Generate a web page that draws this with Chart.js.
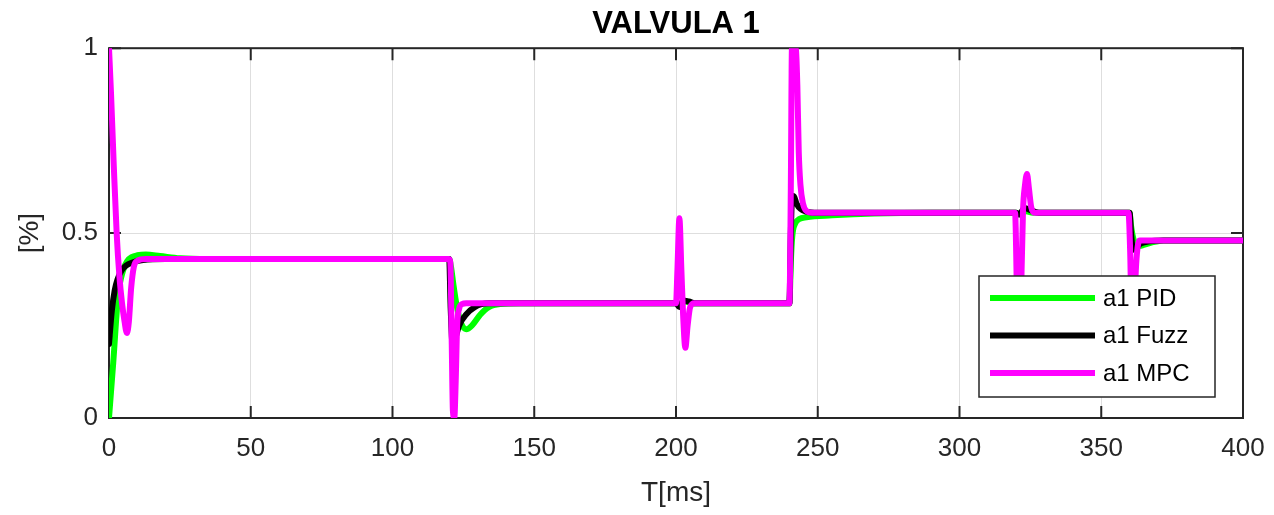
<!DOCTYPE html>
<html>
<head>
<meta charset="utf-8">
<script src="https://cdn.jsdelivr.net/npm/chart.js@4/dist/chart.umd.min.js"></script>
<style>
  html, body { margin: 0; padding: 0; background: #fff; }
</style>
</head>
<body>
<canvas id="myChart" width="1274" height="515"></canvas>
<script>
const FONT = "'Liberation Sans', Arial, sans-serif";
const INK = '#262626';

// x ticks (ms) and y ticks (fraction)
const xTicks = [0, 50, 100, 150, 200, 250, 300, 350, 400];
const yTicks = [0, 0.5, 1];
const yTickLabels = ['0', '0.5', '1'];

// a1 PID
const pidT = [0, 1.5, 3.2, 5, 6.5, 8, 10, 13, 18, 25, 35, 120,
  120.6, 121.5, 122.5, 124, 126, 128, 131, 134, 138, 145, 160,
  200, 201, 203, 206,
  240, 240.5, 241, 242, 243.5, 246, 255, 270, 290,
  320, 321, 323, 326,
  360, 360.5, 361.5, 363, 365, 368, 372, 400];
const pidY = [0, 0.15, 0.33, 0.40, 0.425, 0.435, 0.44, 0.442, 0.438, 0.432, 0.43, 0.43,
  0.41, 0.36, 0.31, 0.26, 0.24, 0.25, 0.28, 0.30, 0.308, 0.31, 0.31,
  0.31, 0.305, 0.315, 0.31,
  0.31, 0.42, 0.49, 0.525, 0.538, 0.543, 0.548, 0.553, 0.555,
  0.555, 0.55, 0.56, 0.555,
  0.555, 0.52, 0.48, 0.465, 0.468, 0.475, 0.48, 0.48];

// a1 Fuzz
const fuzzT = [0, 1, 2, 3, 4.5, 6, 8, 12, 20, 120,
  120.5, 121.3, 122, 123.5, 126, 129, 134,
  200, 201.2, 202.5, 204.5, 207,
  240, 240.5, 241, 241.5, 242.5, 244, 246, 250,
  320, 321, 323, 325, 328,
  360, 360.5, 361.3, 362.5, 364, 367, 372, 400];
const fuzzY = [0.2, 0.29, 0.345, 0.375, 0.40, 0.412, 0.42, 0.427, 0.43, 0.43,
  0.30, 0.19, 0.21, 0.25, 0.28, 0.30, 0.31,
  0.31, 0.30, 0.318, 0.315, 0.31,
  0.31, 0.50, 0.60, 0.60, 0.58, 0.565, 0.558, 0.555,
  0.555, 0.55, 0.568, 0.562, 0.555,
  0.555, 0.50, 0.455, 0.462, 0.472, 0.478, 0.48, 0.48];

// a1 MPC
const mpcT = [0, 0.7, 1.7, 2.7, 3.7, 4.6, 5.5, 6.3, 7, 7.8, 8.8, 10, 13, 120,
  120.4, 120.9, 121.3, 121.8, 122.3, 122.8, 123.5, 124.5, 126,
  200, 200.5, 201.2, 201.9, 202.5, 203.3, 204.1, 205, 206.5,
  240, 240.5, 240.9, 242.2, 242.8, 243.3, 243.9, 244.8, 246, 248,
  319.6, 320.1, 320.6, 321.4, 321.9, 322.4, 323.1, 323.8, 324.5, 325.3, 326.5,
  359.6, 360.2, 360.8, 361.5, 362.2, 362.8, 363.6, 400];
const mpcY = [1.0, 0.88, 0.68, 0.5, 0.38, 0.31, 0.26, 0.23, 0.26, 0.35, 0.41, 0.425, 0.43, 0.43,
  0.42, 0.2, 0.02, 0.0, 0.1, 0.25, 0.295, 0.308, 0.31,
  0.31, 0.40, 0.54, 0.40, 0.28, 0.19, 0.25, 0.30, 0.31,
  0.31, 0.62, 1.0, 1.0, 0.9, 0.72, 0.63, 0.58, 0.56, 0.555,
  0.555, 0.4, 0.12, 0.12, 0.4, 0.56, 0.63, 0.66, 0.62, 0.57, 0.555,
  0.555, 0.45, 0.25, 0.25, 0.40, 0.46, 0.48, 0.48];

function pts(ts, ys) {
  return ts.map((t, i) => ({ x: t, y: ys[i] }));
}

function series(label, ts, ys, color, order) {
  return {
    label: label,
    data: pts(ts, ys),
    order: order,
    borderColor: color,
    backgroundColor: color,
    borderWidth: 6,
    pointRadius: 0,
    cubicInterpolationMode: 'monotone',
    borderCapStyle: 'round',
    borderJoinStyle: 'round',
    fill: false
  };
}

// axes box with inward ticks, drawn under the lines like MATLAB
const boxPlugin = {
  id: 'box',
  beforeDatasetsDraw(chart) {
    const { ctx, chartArea: a, scales } = chart;
    const len = 12;
    ctx.save();
    ctx.strokeStyle = INK;
    ctx.lineWidth = 2;
    ctx.strokeRect(a.left, a.top, a.right - a.left, a.bottom - a.top);
    ctx.beginPath();
    xTicks.forEach(v => {
      const x = scales.x.getPixelForValue(v);
      ctx.moveTo(x, a.bottom); ctx.lineTo(x, a.bottom - len);
      ctx.moveTo(x, a.top); ctx.lineTo(x, a.top + len);
    });
    yTicks.forEach(v => {
      const y = scales.y.getPixelForValue(v);
      ctx.moveTo(a.left, y); ctx.lineTo(a.left + len, y);
      ctx.moveTo(a.right, y); ctx.lineTo(a.right - len, y);
    });
    ctx.stroke();
    ctx.restore();
  }
};

// boxed legend in the lower right corner of the axes
const legendBox = {
  id: 'legendBox',
  afterDatasetsDraw(chart) {
    const { ctx, chartArea: a } = chart;
    const w = 236, h = 121;
    const x = a.right - 28 - w, y = a.bottom - 21 - h;
    ctx.save();
    ctx.fillStyle = '#fff';
    ctx.fillRect(x, y, w, h);
    ctx.strokeStyle = INK;
    ctx.lineWidth = 1.5;
    ctx.strokeRect(x, y, w, h);
    ctx.font = '24px ' + FONT;
    ctx.textBaseline = 'middle';
    ctx.textAlign = 'left';
    chart.data.datasets.forEach((ds, i) => {
      const ry = y + 22 + i * 37.5;
      ctx.strokeStyle = ds.borderColor;
      ctx.lineWidth = 6;
      ctx.beginPath();
      ctx.moveTo(x + 11, ry);
      ctx.lineTo(x + 116, ry);
      ctx.stroke();
      ctx.fillStyle = '#000';
      ctx.fillText(ds.label, x + 124, ry + 1);
    });
    ctx.restore();
  }
};

const ctx = document.getElementById('myChart').getContext('2d');

new Chart(ctx, {
  type: 'line',
  data: {
    datasets: [
      series('a1 PID', pidT, pidY, '#00ff00', 2),
      series('a1 Fuzz', fuzzT, fuzzY, '#000000', 1),
      series('a1 MPC', mpcT, mpcY, '#ff00ff', 0)
    ]
  },
  options: {
    responsive: false,
    animation: false,
    devicePixelRatio: 1,
    layout: { padding: { left: 0, right: 31, top: 0, bottom: 0 } },
    scales: {
      x: {
        type: 'linear',
        min: 0,
        max: 400,
        afterFit: s => { s.height = 97; s.paddingLeft = 0; s.paddingRight = 0; },
        afterBuildTicks: s => { s.ticks = xTicks.map(v => ({ value: v })); },
        ticks: {
          color: INK,
          font: { family: FONT, size: 26 },
          padding: 15,
          maxRotation: 0
        },
        grid: { color: '#dedede', lineWidth: 1, drawTicks: false },
        border: { display: false },
        title: {
          display: true,
          text: 'T[ms]',
          color: INK,
          font: { family: FONT, size: 28 },
          padding: { top: 5, bottom: 5 }
        }
      },
      y: {
        min: 0,
        max: 1,
        afterFit: s => { s.width = 109; s.paddingTop = 0; s.paddingBottom = 0; },
        afterBuildTicks: s => { s.ticks = yTicks.map(v => ({ value: v })); },
        ticks: {
          color: INK,
          font: { family: FONT, size: 26 },
          padding: 11,
          callback: (v) => yTickLabels[yTicks.indexOf(v)]
        },
        grid: { color: '#dedede', lineWidth: 1, drawTicks: false },
        border: { display: false },
        title: {
          display: true,
          text: '[%]',
          color: INK,
          font: { family: FONT, size: 28 },
          padding: { top: 13, bottom: 13 }
        }
      }
    },
    plugins: {
      legend: { display: false },
      tooltip: { enabled: false },
      title: {
        display: true,
        fullSize: false,
        text: 'VALVULA 1',
        color: '#000',
        font: { family: FONT, size: 31, weight: 'bold' },
        padding: { top: 6, bottom: 5 }
      }
    }
  },
  plugins: [boxPlugin, legendBox]
});
</script>
</body>
</html>
